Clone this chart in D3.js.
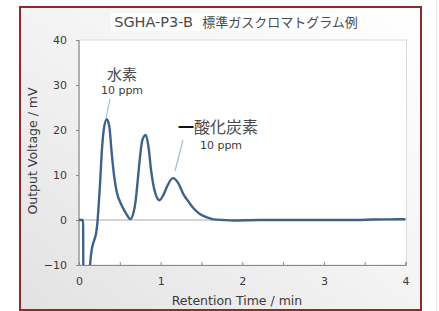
<!DOCTYPE html>
<html><head><meta charset="utf-8">
<script src="https://cdn.jsdelivr.net/npm/d3@7"></script>
<style>html,body{margin:0;padding:0;background:#fff;}svg{display:block;}</style>
</head><body>
<svg id="c" width="439" height="311"></svg>
<script>
const titleLatin = "SGHA-P3-B";
const titleCJK = "標準ガスクロマトグラム例";
const xTitle = "Retention Time / min";
const yTitle = "Output Voltage / mV";
const xTickValues = [0, 1, 2, 3, 4];
const xMinorTicks = [0.5, 1.5, 2.5, 3.5];
const yTickValues = [-10, 0, 10, 20, 30, 40];
const timeMin = [0, 0.05, 0.054, 0.12, 0.135, 0.155, 0.188, 0.209, 0.225, 0.237, 0.258, 0.278, 0.303, 0.34, 0.372, 0.401, 0.43, 0.462, 0.524, 0.585, 0.628, 0.666, 0.695, 0.72, 0.748, 0.777, 0.818, 0.851, 0.883, 0.924, 0.986, 1.035, 1.088, 1.15, 1.219, 1.28, 1.341, 1.403, 1.485, 1.567, 1.648, 1.77, 1.89, 2.2, 2.6, 3.0, 3.4, 3.6, 3.8, 4.0];
const voltage = [0, 0, -14, -14, -10, -6.7, -4.4, -3.0, -0.7, 2.2, 8.1, 14.8, 20.0, 22.4, 20.7, 14.8, 9.8, 6.3, 3.2, 1.2, 0.2, 1.5, 4.4, 8.9, 14.1, 17.8, 18.9, 16.3, 11.1, 6.7, 4.4, 5.6, 7.8, 9.3, 8.1, 5.7, 4.1, 2.6, 1.3, 0.6, 0.15, 0, -0.1, 0, 0, 0, 0, 0.1, 0.15, 0.2];
const peakNames = ["水素", "酸化炭素"];
const peakConc = ["10 ppm", "10 ppm"];

const svg = d3.select("#c");
const defs = svg.append("defs");
const grad = defs.append("linearGradient").attr("id","bg").attr("x1","1").attr("y1","0").attr("x2","0").attr("y2","1");
grad.append("stop").attr("offset","0").attr("stop-color","#ffffff");
grad.append("stop").attr("offset","0.5").attr("stop-color","#f3f3f3");
grad.append("stop").attr("offset","1").attr("stop-color","#e2e2e2");

svg.append("line").attr("x1",436.5).attr("x2",436.5).attr("y1",0).attr("y2",311).attr("stroke","#e6e8ec").attr("stroke-width",1);

svg.append("rect").attr("x",20).attr("y",7).attr("width",401).attr("height",303)
  .attr("fill","url(#bg)").attr("stroke","#8e2b2b").attr("stroke-width",2);

const m = {l:79, r:405.5, t:40, b:265};
const x = d3.scaleLinear().domain([0,4]).range([m.l, m.r]);
const y = d3.scaleLinear().domain([-10,40]).range([m.b, m.t]);

svg.append("rect").attr("x",111).attr("y",13).attr("width",250).attr("height",18).attr("fill","#ffffff").attr("opacity",0.85);
const tt = svg.append("text").attr("x",236).attr("y",27).attr("text-anchor","middle").attr("fill","#4a4a4a");
tt.append("tspan").attr("font-family","DejaVu Sans, Verdana, sans-serif").attr("font-size",14.5).text(titleLatin + "\u00a0\u00a0");
tt.append("tspan").attr("font-family","Noto Sans CJK JP, sans-serif").attr("font-size",13).text(titleCJK);

svg.append("rect").attr("x",m.l).attr("y",m.t).attr("width",m.r-m.l+1).attr("height",m.b-m.t)
  .attr("fill","#ffffff").attr("stroke","#dcdcdc").attr("stroke-width",1);

svg.append("line").attr("x1",m.l).attr("x2",m.r).attr("y1",y(0)).attr("y2",y(0)).attr("stroke","#a8a8a8").attr("stroke-width",1);

const yAxis = d3.axisLeft(y).tickValues(yTickValues).tickSize(3).tickPadding(9).tickFormat(d3.format("d"));
const gy = svg.append("g").attr("transform",`translate(${m.l},0)`).call(yAxis);
const xAxis = d3.axisBottom(x).tickValues(xTickValues).tickSize(0).tickPadding(12).tickFormat(d3.format("d"));
const gx = svg.append("g").attr("transform",`translate(0,${m.b})`).call(xAxis);
const xMinor = d3.axisBottom(x).tickValues(d3.merge([xTickValues, xMinorTicks])).tickSize(-3).tickFormat("");
const gxm = svg.append("g").attr("transform",`translate(0,${m.b})`).call(xMinor);
[gy,gx,gxm].forEach(g=>{
  g.select(".domain").attr("stroke","#8a8a8a").attr("stroke-width",1.2);
  g.selectAll(".tick line").attr("stroke","#8a8a8a");
  g.selectAll("text").attr("font-family","DejaVu Sans, Verdana, sans-serif").attr("font-size",11).attr("fill","#3a3a3a");
});
gy.select(".domain").attr("d",`M0,${m.t}V${m.b}`);

svg.append("text").attr("x",237).attr("y",305).attr("text-anchor","middle")
  .attr("font-family","DejaVu Sans, Verdana, sans-serif").attr("font-size",12.5).attr("fill","#3a3a3a").text(xTitle);
svg.append("text").attr("transform","translate(37,151) rotate(-90)").attr("text-anchor","middle")
  .attr("font-family","DejaVu Sans, Verdana, sans-serif").attr("font-size",12.5).attr("fill","#3a3a3a").text(yTitle);

defs.append("clipPath").attr("id","clip").append("rect").attr("x",m.l).attr("y",m.t-5).attr("width",m.r-m.l+2).attr("height",m.b-m.t+5);

const data = timeMin.map((t,i)=>({t, v: voltage[i]}));
const line = d3.line().x(d=>x(d.t)).y(d=>y(d.v)).curve(d3.curveMonotoneX);
svg.append("path").datum(data).attr("clip-path","url(#clip)").attr("d",line)
  .attr("fill","none").attr("stroke","#3f6289").attr("stroke-width",2.4).attr("stroke-linejoin","round");

const lead = "#9fbde0";
svg.append("line").attr("x1",110).attr("y1",99).attr("x2",106).attr("y2",118).attr("stroke",lead).attr("stroke-width",1.2);
svg.append("line").attr("x1",183).attr("y1",140).attr("x2",175).attr("y2",171).attr("stroke",lead).attr("stroke-width",1.2);

svg.append("text").attr("x",122).attr("y",80).attr("text-anchor","middle")
  .attr("font-family","Noto Sans CJK JP, sans-serif").attr("font-size",15).attr("fill","#4a4a4a").text(peakNames[0]);
svg.append("text").attr("x",122).attr("y",94).attr("text-anchor","middle")
  .attr("font-family","DejaVu Sans, Verdana, sans-serif").attr("font-size",11).attr("fill","#3a3a3a").text(peakConc[0]);

const t2 = svg.append("text").attr("x",178).attr("y",133).attr("font-family","Noto Sans CJK JP, sans-serif").attr("font-size",16);
t2.append("tspan").attr("fill","#111").attr("font-weight","bold").text("一");
t2.append("tspan").attr("fill","#4a4a4a").text(peakNames[1]);
svg.append("text").attr("x",221).attr("y",149).attr("text-anchor","middle")
  .attr("font-family","DejaVu Sans, Verdana, sans-serif").attr("font-size",11).attr("fill","#3a3a3a").text(peakConc[1]);
</script>
</body></html>
